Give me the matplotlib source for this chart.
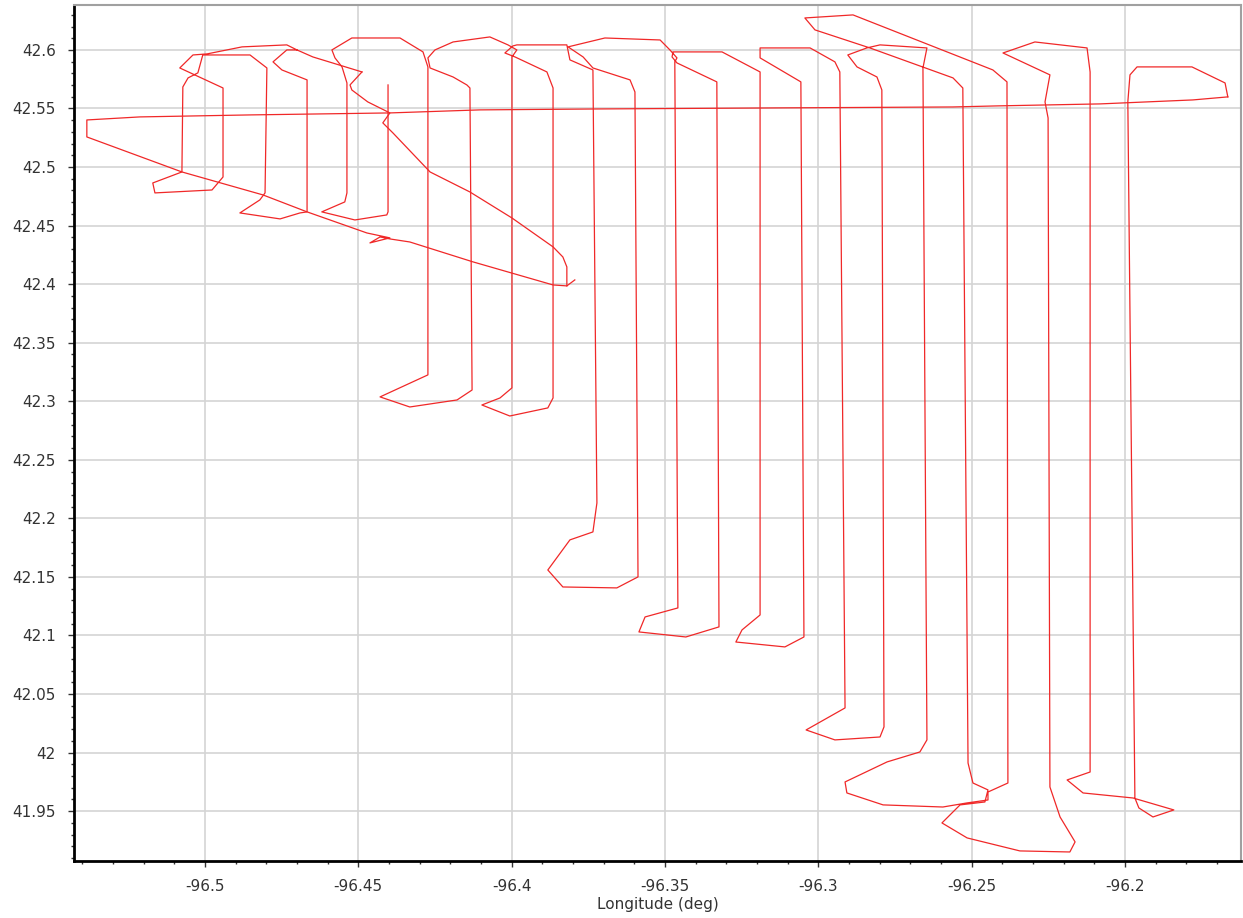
import numpy as np
import matplotlib
matplotlib.use("Agg")
import matplotlib.pyplot as plt
from matplotlib.ticker import MultipleLocator, FuncFormatter

# flight track (lon, lat in degrees)
# departure from the airport up to the first survey line
dep_lon = [-96.3820, -96.3820, -96.3833, -96.3865, -96.3999, -96.4136, -96.4266,
           -96.4387, -96.4420, -96.4397, -96.4469, -96.4521, -96.4527, -96.4488]
dep_lat = [42.3985, 42.4147, 42.4232, 42.4318, 42.4565, 42.4787, 42.4958,
           42.5291, 42.5377, 42.5462, 42.5556, 42.5658, 42.5701, 42.5812]

# survey lines, east part
east_lon = [-96.4403, -96.4403, -96.4407, -96.4511, -96.4619, -96.4544, -96.4537,
            -96.4537, -96.4553, -96.4576, -96.4586, -96.4521, -96.4364, -96.4289, -96.4273,
            -96.4273, -96.4429, -96.4332, -96.4178, -96.4129,
            -96.4136, -96.4146, -96.4191, -96.4266, -96.4273, -96.4250, -96.4191, -96.4071,
            -96.4012, -96.3983, -96.3999,
            -96.3999, -96.4038, -96.4097, -96.4006, -96.3882, -96.3865,
            -96.3865, -96.3885, -96.3989, -96.4022, -96.3996, -96.3983, -96.3820, -96.3810, -96.3735,
            -96.3728, -96.3722, -96.3735, -96.3810, -96.3882, -96.3833, -96.3657, -96.3588,
            -96.3598, -96.3614, -96.3735, -96.3767, -96.3816, -96.3696, -96.3516, -96.3484,
            -96.3461, -96.3468,
            -96.3458, -96.3565, -96.3585, -96.3432, -96.3324,
            -96.3331, -96.3461, -96.3477, -96.3474, -96.3314, -96.3190,
            -96.3190, -96.3249, -96.3269, -96.3109, -96.3047,
            -96.3057, -96.3190, -96.3190, -96.3027, -96.2946, -96.2930,
            -96.2913, -96.3040, -96.2946, -96.2799, -96.2786,
            -96.2793, -96.2809, -96.2874, -96.2904, -96.2842, -96.2799, -96.2646, -96.2659,
            -96.2646, -96.2669, -96.2776, -96.2913, -96.2907, -96.2789, -96.2594, -96.2515,
            -96.2447, -96.2447, -96.2382,
            -96.2385, -96.2431, -96.2887, -96.3044, -96.3011, -96.2832, -96.2561, -96.2529,
            -96.2512, -96.2496, -96.2447, -96.2457, -96.2538, -96.2597, -96.2515, -96.2343,
            -96.2180, -96.2163, -96.2212, -96.2245,
            -96.2251, -96.2261, -96.2245, -96.2398, -96.2294, -96.2124, -96.2114,
            -96.2114, -96.2189, -96.2137, -96.1974, -96.1841, -96.1909, -96.1955, -96.1968,
            -96.1991, -96.1984, -96.1961, -96.1782, -96.1674, -96.1665]
east_lat = [42.5701, 42.4617, 42.4591, 42.4548, 42.4617, 42.4702, 42.4779,
            42.5718, 42.5855, 42.5932, 42.6000, 42.6102, 42.6102, 42.5983, 42.5855,
            42.3225, 42.3037, 42.2951, 42.3011, 42.3096,
            42.5675, 42.5701, 42.5769, 42.5846, 42.5932, 42.6000, 42.6068, 42.6111,
            42.6043, 42.6000, 42.5940,
            42.3114, 42.3028, 42.2968, 42.2874, 42.2943, 42.3028,
            42.5675, 42.5812, 42.5940, 42.5974, 42.6034, 42.6043, 42.6043, 42.5915, 42.5829,
            42.3865, 42.2131, 42.1884, 42.1816, 42.1559, 42.1414, 42.1406, 42.1500,
            42.5641, 42.5744, 42.5846, 42.5940, 42.6026, 42.6102, 42.6085, 42.6000,
            42.5932, 42.5898,
            42.1235, 42.1158, 42.1030, 42.0987, 42.1073,
            42.5727, 42.5889, 42.5940, 42.5983, 42.5983, 42.5812,
            42.1175, 42.1047, 42.0944, 42.0902, 42.0987,
            42.5727, 42.5932, 42.6017, 42.6017, 42.5898, 42.5812,
            42.0381, 42.0193, 42.0108, 42.0133, 42.0219,
            42.5658, 42.5769, 42.5855, 42.5957, 42.6017, 42.6043, 42.6017, 42.5846,
            42.0108, 42.0005, 41.9920, 41.9749, 41.9655, 41.9553, 41.9535, 41.9570,
            41.9595, 41.9663, 41.9740,
            42.5727, 42.5829, 42.6299, 42.6273, 42.6171, 42.6017, 42.5761, 42.5675,
            41.9911, 41.9740, 41.9681, 41.9578, 41.9553, 41.9399, 41.9271, 41.9160,
            41.9151, 41.9237, 41.9450, 41.9706,
            42.5419, 42.5556, 42.5787, 42.5974, 42.6068, 42.6017, 42.5812,
            41.9834, 41.9766, 41.9655, 41.9612, 41.9510, 41.9450, 41.9527, 41.9612,
            42.5556, 42.5787, 42.5855, 42.5855, 42.5718, 42.5599]

# transit back west, then return to the airport
ret_lon = [-96.1665, -96.1779, -96.2082, -96.2418, -96.2561, -96.3125, -96.3712, -96.4103,
           -96.4397, -96.4853, -96.5212, -96.5385, -96.5385, -96.5075, -96.4811, -96.4667,
           -96.4472, -96.4397, -96.4462, -96.4429, -96.4397, -96.4332, -96.4126, -96.3865,
           -96.3820, -96.3794]
ret_lat = [42.5599, 42.5573, 42.5539, 42.5522, 42.5513, 42.5505, 42.5496, 42.5488,
           42.5462, 42.5445, 42.5428, 42.5402, 42.5257, 42.4958, 42.4762, 42.4617,
           42.4437, 42.4395, 42.4352, 42.4403, 42.4386, 42.4360, 42.4190, 42.3993,
           42.3985, 42.4036]

# survey lines, west part
west_lon = [-96.4488, -96.4648, -96.4700, -96.4733, -96.4879, -96.4993, -96.5039, -96.5082,
            -96.4941, -96.4941, -96.4977, -96.5163, -96.5170, -96.5075,
            -96.5072, -96.5055, -96.5023, -96.5007, -96.4853, -96.4798,
            -96.4804, -96.4821, -96.4886, -96.4755, -96.4690, -96.4667,
            -96.4667, -96.4749, -96.4778, -96.4733, -96.4700]
west_lat = [42.5812, 42.5940, 42.6000, 42.6043, 42.6026, 42.5966, 42.5957, 42.5846,
            42.5675, 42.4915, 42.4804, 42.4779, 42.4864, 42.4958,
            42.5684, 42.5761, 42.5804, 42.5957, 42.5957, 42.5846,
            42.4779, 42.4719, 42.4608, 42.4557, 42.4608, 42.4617,
            42.5744, 42.5829, 42.5898, 42.6000, 42.6000]

plt.rcParams['axes.unicode_minus'] = False
plt.rcParams['font.family'] = 'DejaVu Sans'

fig = plt.figure(figsize=(12.43, 9.18), dpi=100)
ax = fig.add_axes([0.0595, 0.0621, 0.9389, 0.9325])

red = '#f02828'
for lo, la in [(dep_lon, dep_lat), (east_lon, east_lat), (ret_lon, ret_lat), (west_lon, west_lat)]:
    ax.plot(lo, la, color=red, lw=0.9)

ax.set_xlim(-96.5427, -96.1622)
ax.set_ylim(41.9074, 42.6384)

ax.xaxis.set_major_locator(MultipleLocator(0.05))
ax.xaxis.set_minor_locator(MultipleLocator(0.01))
ax.yaxis.set_major_locator(MultipleLocator(0.05))
ax.yaxis.set_minor_locator(MultipleLocator(0.01))
fmt = FuncFormatter(lambda v, p: ('%.2f' % v).rstrip('0').rstrip('.'))
ax.xaxis.set_major_formatter(fmt)
ax.yaxis.set_major_formatter(fmt)

ax.grid(True, which='major', color='#d4d4d4', lw=1.2)
ax.set_axisbelow(True)

ax.tick_params(which='both', direction='out', colors='#333333', labelsize=11)
ax.tick_params(which='major', length=4, width=1)
ax.tick_params(which='minor', length=2.5, width=1)
ax.tick_params(axis='x', pad=9)
ax.tick_params(axis='y', pad=9)

for s in ['left', 'bottom']:
    ax.spines[s].set_color('black')
    ax.spines[s].set_linewidth(2)
for s in ['top', 'right']:
    ax.spines[s].set_color('#a0a0a0')
    ax.spines[s].set_linewidth(1.5)

ax.set_xlabel('Longitude (deg)', fontsize=11, color='#333333', labelpad=2)

fig.savefig('out.png', dpi=100)
